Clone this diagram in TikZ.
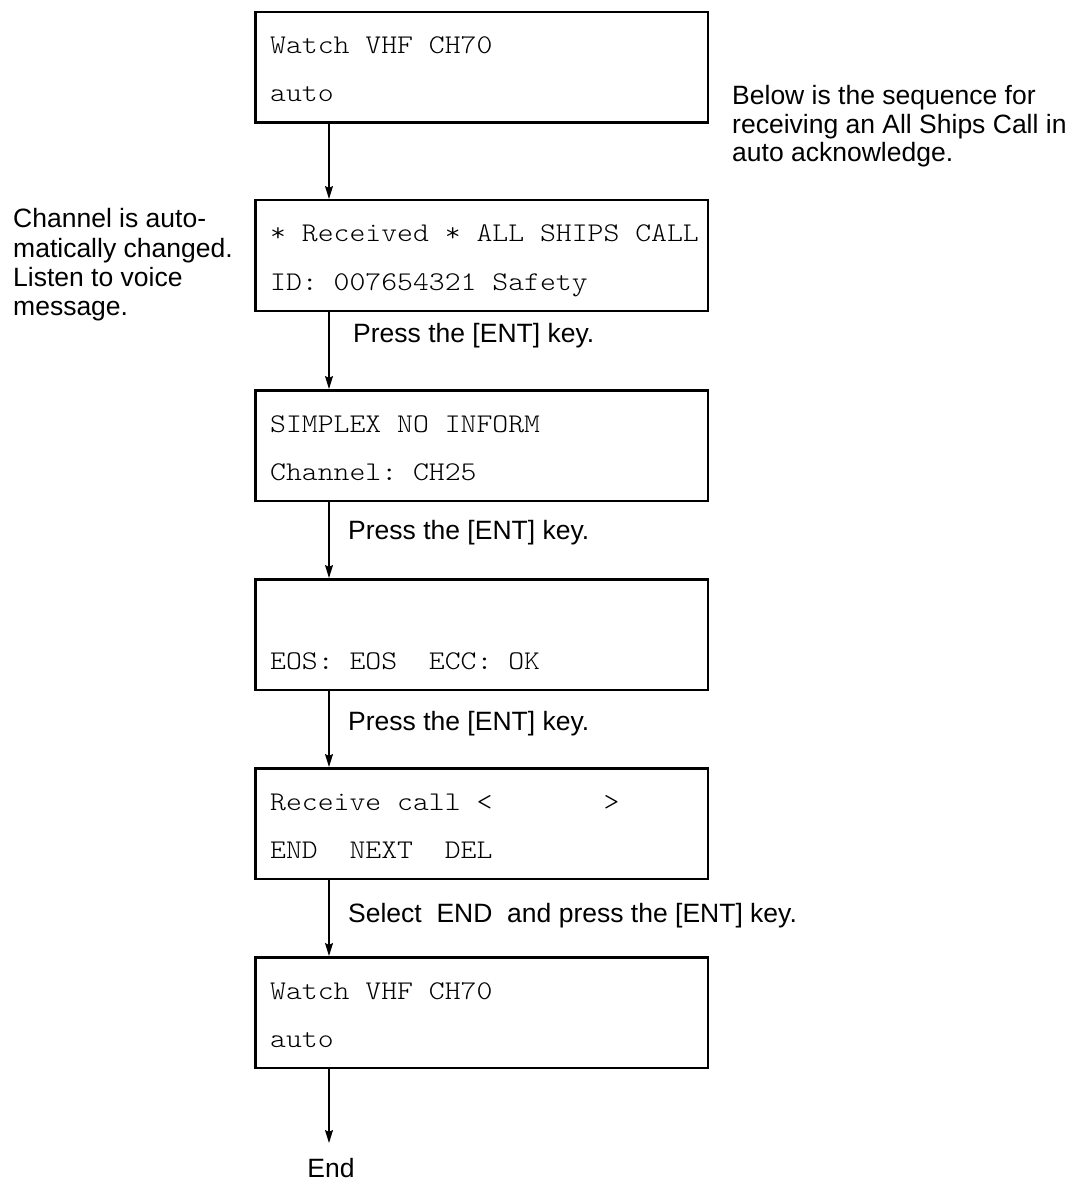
\documentclass[tikz,border=0pt]{standalone}
\usepackage{fontspec}
\setmainfont{Liberation Sans}
\newfontfamily\lcdfont[FakeStretch=1.12]{lmmonolt10-regular.otf}
\usetikzlibrary{arrows.meta}
\tikzset{
  lcdbox/.style={draw, line width=2.5pt, minimum width=452.5pt, minimum height=110.5pt, anchor=north west, inner sep=0pt},
  lcdtext/.style={anchor=base west, inner sep=0pt, font=\lcdfont\fontsize{27}{27}\selectfont\frenchspacing},
  note/.style={anchor=base west, inner sep=0pt, font=\fontsize{26.5}{29}\selectfont},
  flow/.style={-{Stealth[length=13pt,width=8pt,inset=2pt]}, line width=1.2pt},
}
\begin{document}
\begin{tikzpicture}[x=1pt,y=-1pt]
\useasboundingbox (0,0) rectangle (1079,1182);
% boxes
\node[lcdbox] (b1) at (254,11) {};
\node[lcdbox] (b2) at (254,199) {};
\node[lcdbox] (b3) at (254,389) {};
\node[lcdbox] (b4) at (254,578) {};
\node[lcdbox] (b5) at (254,767) {};
\node[lcdbox] (b6) at (254,956) {};
% box texts
\node[lcdtext] (t1a) at ([shift={(16,43)}]b1.north west) {Watch VHF CH70};
\node[lcdtext] (t1b) at ([shift={(16,91)}]b1.north west) {auto};
\node[lcdtext] (t2a) at ([shift={(16,43)}]b2.north west) {* Received * ALL SHIPS CALL};
\node[lcdtext] (t2b) at ([shift={(16,91)}]b2.north west) {ID: 007654321 Safety};
\node[lcdtext] (t3a) at ([shift={(16,43)}]b3.north west) {SIMPLEX NO INFORM};
\node[lcdtext] (t3b) at ([shift={(16,91)}]b3.north west) {Channel: CH25};
\node[lcdtext] (t4b) at ([shift={(16,91)}]b4.north west) {EOS: EOS\ \ ECC: OK};
\node[lcdtext] (t5a) at ([shift={(16,43)}]b5.north west) {Receive call <\ \ \ \ \ \ \ >};
\node[lcdtext] (t5b) at ([shift={(16,91)}]b5.north west) {END\ \ NEXT\ \ DEL};
\node[lcdtext] (t6a) at ([shift={(16,43)}]b6.north west) {Watch VHF CH70};
\node[lcdtext] (t6b) at ([shift={(16,91)}]b6.north west) {auto};
% connectors
\draw[flow] ([xshift=75pt]b1.south west) -- ([xshift=75pt]b2.north west);
\draw[flow] ([xshift=75pt]b2.south west) -- ([xshift=75pt]b3.north west);
\draw[flow] ([xshift=75pt]b3.south west) -- ([xshift=75pt]b4.north west);
\draw[flow] ([xshift=75pt]b4.south west) -- ([xshift=75pt]b5.north west);
\draw[flow] ([xshift=75pt]b5.south west) -- ([xshift=75pt]b6.north west);
\coordinate (endpt) at (329,1143);
\draw[flow] ([xshift=75pt]b6.south west) -- (endpt);
\node[note, anchor=base] (endlbl) at (331,1177) {End};
% step labels
\node[note] (l1) at (353,342) {Press the [ENT] key.};
\node[note] (l2) at (348,539) {Press the [ENT] key.};
\node[note] (l3) at (348,730) {Press the [ENT] key.};
\node[note] (l4) at (348,922) {Select\ \ END\ \ and press the [ENT] key.};
% side notes
\node[note] (n1) at (13,228) {Channel is auto-};
\node[note] (n2) at (13,257) {matically changed.};
\node[note] (n3) at (13,286) {Listen to voice};
\node[note] (n4) at (13,315) {message.};
\node[note] (r1) at (732,105) {Below is the sequence for};
\node[note] (r2) at (732,133.5) {receiving an All Ships Call in};
\node[note] (r3) at (732,162) {auto acknowledge.};
\end{tikzpicture}
\end{document}
